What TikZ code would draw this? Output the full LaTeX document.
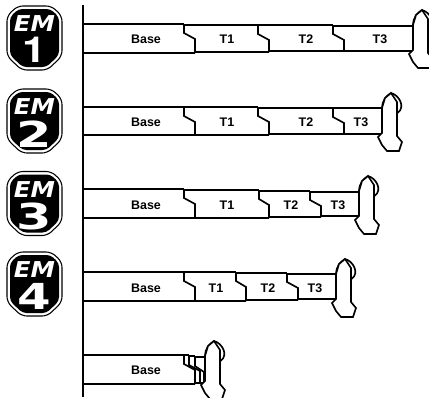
\documentclass[tikz,border=0pt]{standalone}
\usepackage{graphicx}
\usepackage{fontspec}
\setmainfont{Liberation Sans}
\newfontfamily\heavy{DejaVu Sans}
\newfontfamily\heros{TeX Gyre Heros}
\tikzset{
  x=0.0265cm,y=-0.0265cm,
  tline/.style={draw=black,line width=1.25pt,line join=miter},
  lab/.style={font=\fontsize{9.4}{10}\selectfont\bfseries,inner sep=0pt},
  emnum/.style={text=white,inner sep=0pt},
  emtxt/.style={text=white,inner sep=0pt},
}
% #1 = x of tooth left edge, #2 = y of the row top
\newcommand{\tooth}[2]{%
  \begin{scope}[shift={(#1,#2)}]
    \draw[tline] (9,-14) .. controls (17,-12) and (24,0) .. (15.5,6);
    \draw[tline] (0,1) .. controls (0,-6) and (4,-11) .. (9,-14);
    \draw[tline,fill=white] (0,26) -- (0,1) -- (3,-9) -- (9,-14) -- (15,-5) -- (15,29) -- (20,35) -- (17,44) -- (5,44) -- (0,38) -- (-4,30) -- cycle;
  \end{scope}}
% x1 top-end, x2 bottom-end, y top, y bottom
\newcommand{\seg}[4]{%
  \draw[tline] (#1,#3) -- (#1,#3+9) -- (#2,#3+15) -- (#2,#4);}
\newcommand{\badge}[6]{%
  \begin{scope}[shift={(34.5,#1)}]
    \draw[black,line width=0.8pt,fill=white,rounded corners=4pt] (-27.5,-22) -- (-17,-32) -- (17,-32) -- (27.5,-22) -- (27.5,18) -- (13,32) -- (-13,32) -- (-27.5,18) -- cycle;
    \fill[black,rounded corners=3pt] (-24.5,-21) -- (-16,-29) -- (16,-29) -- (24.5,-21) -- (24.5,17) -- (12,29) -- (-12,29) -- (-24.5,17) -- cycle;
    \node[emtxt] (#2t) at (0,-14) {\heavy\fontsize{16.5}{16.5}\selectfont\bfseries\itshape\scalebox{1.12}[1]{EM}};
    \node[emnum] (#2n) at (0,#3) {\scalebox{#5}[1]{#6\fontsize{27}{27}\selectfont\bfseries #4}};
  \end{scope}}
\begin{document}
\begin{tikzpicture}
\clip (0,0) rectangle (429,397);
\fill[white] (0,0) rectangle (429,397);
\draw[line width=1.6pt] (83,5) -- (83,397);

\badge{38}{a}{12}{1}{1.2}{\heros}
\badge{121}{b}{13}{2}{1.42}{\heavy}
\badge{203.5}{c}{12.5}{3}{1.42}{\heavy}
\badge{284}{d}{12}{4}{1.35}{\heavy}

% Row 1
\draw[tline] (83,24) -- (184,24);
\draw[tline] (83,53) -- (195,53);
\seg{184}{195}{24}{53}
\draw[tline] (184,25) -- (258,25);
\draw[tline] (195,52) -- (269,52);
\seg{258}{269}{25}{52}
\draw[tline] (258,25) -- (333,25);
\draw[tline] (269,51) -- (344,51);
\seg{333}{344}{25}{51}
\draw[tline] (333,26) -- (413,26);
\draw[tline] (344,51) -- (413,51);
\tooth{413}{24}
\node[lab] (b1) at (146,39) {Base};
\node[lab] (t11) at (227,39) {T1};
\node[lab] (t12) at (306,39) {T2};
\node[lab] (t13) at (380,39) {T3};

% Row 2
\draw[tline] (83,107) -- (184,107);
\draw[tline] (83,135) -- (195,135);
\seg{184}{195}{107}{135}
\draw[tline] (184,107) -- (258,107);
\draw[tline] (195,135) -- (269,135);
\seg{258}{269}{107}{135}
\draw[tline] (258,108) -- (333,108);
\draw[tline] (269,134) -- (344,134);
\seg{333}{344}{108}{134}
\draw[tline] (333,108) -- (382,108);
\draw[tline] (344,134) -- (382,134);
\tooth{382}{107}
\node[lab] (b2) at (146,122) {Base};
\node[lab] (t21) at (227,122) {T1};
\node[lab] (t22) at (306,122) {T2};
\node[lab] (t23) at (361,122) {T3};

% Row 3
\draw[tline] (83,189) -- (184,189);
\draw[tline] (83,218) -- (195,218);
\seg{184}{195}{189}{218}
\draw[tline] (184,190) -- (259,190);
\draw[tline] (195,218) -- (269,218);
\seg{259}{269}{190}{218}
\draw[tline] (259,191) -- (310,191);
\draw[tline] (269,217) -- (321,217);
\seg{310}{321}{191}{217}
\draw[tline] (310,192) -- (359,192);
\draw[tline] (321,216) -- (359,216);
\tooth{359}{190}
\node[lab] (b3) at (146,205) {Base};
\node[lab] (t31) at (227,205) {T1};
\node[lab] (t32) at (291,205) {T2};
\node[lab] (t33) at (338,205) {T3};

% Row 4
\draw[tline] (83,272) -- (184,272);
\draw[tline] (83,301) -- (195,301);
\seg{184}{195}{272}{301}
\draw[tline] (184,272) -- (236,272);
\draw[tline] (195,301) -- (246,301);
\seg{236}{246}{272}{301}
\draw[tline] (236,273) -- (287,273);
\draw[tline] (246,300) -- (298,300);
\seg{287}{298}{273}{300}
\draw[tline] (287,274) -- (336,274);
\draw[tline] (298,299) -- (336,299);
\tooth{336}{273}
\node[lab] (b4) at (146,288) {Base};
\node[lab] (t41) at (216,288) {T1};
\node[lab] (t42) at (268,288) {T2};
\node[lab] (t43) at (315,288) {T3};

% Row 5
\draw[tline] (83,355) -- (184,355);
\draw[tline] (83,384) -- (195,384);
\seg{184}{195}{355}{384}
\draw[tline] (184,355) -- (189,355);
\draw[tline] (189,356) -- (195,356);
\draw[tline] (195,357) -- (205,357);
\draw[tline] (195,383) -- (205,383);
\seg{189}{200}{356}{383}
\seg{195}{204}{357}{383}
\tooth{205}{355}
\node[lab] (b5) at (146,370) {Base};
\end{tikzpicture}
\end{document}
